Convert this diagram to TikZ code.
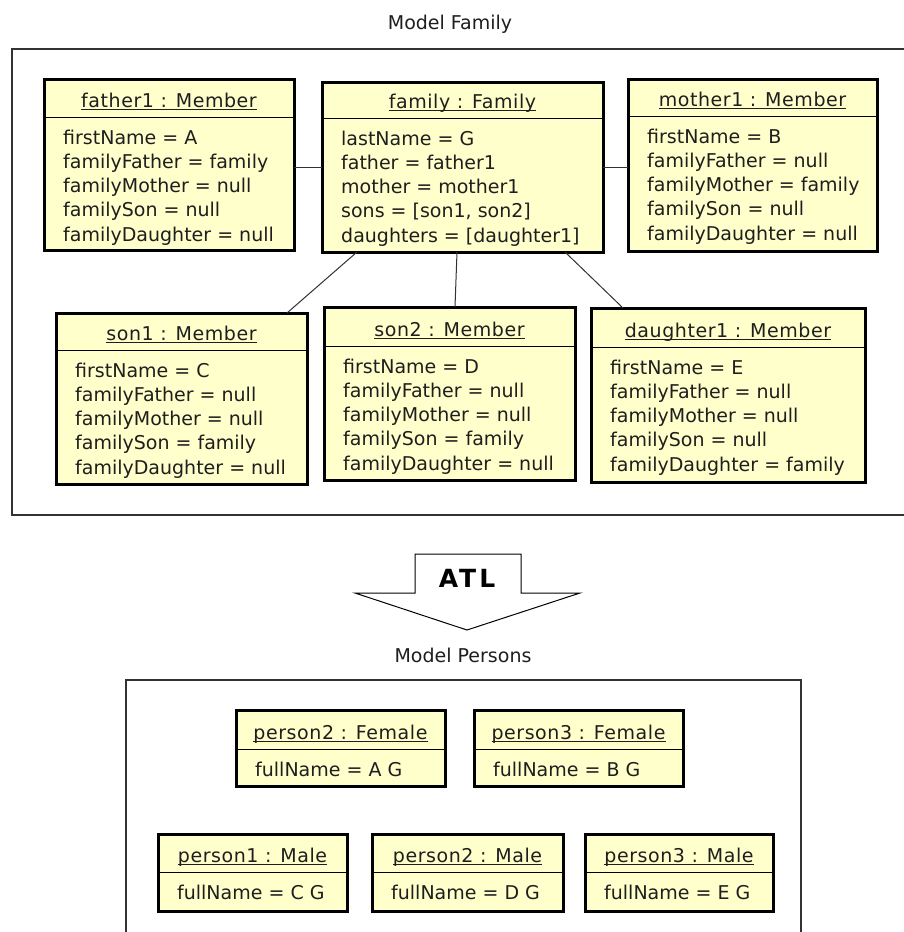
\documentclass[tikz,border=0pt]{standalone}
\usepackage{fontspec}
\setmainfont{DejaVu Sans}
\newfontfamily\hdrfont[LetterSpace=3]{DejaVu Sans}
\newfontfamily\atlfont[LetterSpace=12]{DejaVu Sans}
\usetikzlibrary{calc}

\definecolor{objfill}{RGB}{255,255,204}
\definecolor{txt}{RGB}{30,30,30}
\definecolor{framecol}{RGB}{50,50,50}

% underline sitting a fixed distance under the baseline
\newcommand\ulin[1]{\setbox0=\hbox{#1}\rlap{\rule[-3pt]{\wd0}{1pt}}\box0}

\tikzset{
  objframe/.style={draw=black, line width=3pt, fill=objfill, rectangle,
                   inner sep=0pt, outer sep=0pt},
  sepline/.style={draw=black, line width=1pt},
  hdrtext/.style={anchor=base, inner sep=0pt, text=txt,
                  font=\hdrfont\fontsize{19}{23}\selectfont},
  bodytext/.style={anchor=base west, inner sep=0pt, text=txt,
                   font=\fontsize{19}{23}\selectfont},
  titletext/.style={anchor=base, inner sep=0pt, text=txt,
                    font=\fontsize{19}{23}\selectfont},
  modelframe/.style={draw=framecol, line width=1.4pt, fill=none},
  link/.style={draw=framecol, line width=1pt},
}

% object box: name, left, top, right, bottom, separator y, title, attribute lines
\newcommand\objbox[8]{%
  \node[objframe, minimum width={(#4)-(#2)}, minimum height={(#5)-(#3)}]
    (#1) at ({((#2)+(#4))/2},{((#3)+(#5))/2}) {};
  \draw[sepline] (#2,#6) -- (#4,#6);
  \node[hdrtext] at ({((#2)+(#4))/2},{(#6)-10}) {\ulin{#7}};
  \foreach \bline [count=\idx] in {#8} {
    \node[bodytext] at ({(#2)+19},{(#6)+27+(\idx-1)*24.3}) {\bline};
  }
}

\begin{document}
\begin{tikzpicture}[x=1pt, y=-1pt]
  \useasboundingbox (0,0) rectangle (904,932);
  \clip (0,0) rectangle (904,932);
  \fill[white] (0,0) rectangle (904,932);

  % source model
  \node[titletext] (famtitle) at (450,29) {Model Family};
  \draw[modelframe] (12,49) rectangle (915,515);

  \objbox{father1}{44}{79}{294}{250}{117}{father1 : Member}%
    {firstName = A, familyFather = family, familyMother = null, familySon = null, familyDaughter = null}
  \objbox{family}{322}{82}{603}{252}{118}{family : Family}%
    {lastName = G, father = father1, mother = mother1, {sons = [son1, son2]}, {daughters = [daughter1]}}
  \objbox{mother1}{628}{79}{877}{251}{116}{mother1 : Member}%
    {firstName = B, familyFather = null, familyMother = family, familySon = null, familyDaughter = null}
  \objbox{son1}{56}{313}{307}{484}{350}{son1 : Member}%
    {firstName = C, familyFather = null, familyMother = null, familySon = family, familyDaughter = null}
  \objbox{son2}{324}{307}{575}{480}{346}{son2 : Member}%
    {firstName = D, familyFather = null, familyMother = null, familySon = family, familyDaughter = null}
  \objbox{daughter1}{591}{308}{865}{482}{347}{daughter1 : Member}%
    {firstName = E, familyFather = null, familyMother = null, familySon = null, familyDaughter = family}

  % links between the family and its members
  \draw[link] (family.west) -- (family.west -| father1.east);
  \draw[link] (family.east) -- (family.east -| mother1.west);
  \draw[link] ($(family.south west)+(35,0)$) -- ($(son1.north east)+(-20,0)$);
  \draw[link] ($(family.south west)+(135,0)$) -- ($(son2.north west)+(131,0)$);
  \draw[link] ($(family.south east)+(-38,0)$) -- ($(daughter1.north west)+(32,0)$);

  % transformation arrow
  \draw[black, line width=1pt, fill=white, line join=miter]
    (415,554) -- (521,554) -- (521,593) -- (580,593) -- (467,630)
    -- (355,593) -- (415,593) -- cycle;
  \node[anchor=base, inner sep=0pt, text=black,
        font=\atlfont\bfseries\fontsize{25}{30}\selectfont] (atl) at (467,587) {ATL};

  % target model
  \node[titletext] (pertitle) at (463,662) {Model Persons};
  \draw[modelframe] (126,680) rectangle (801,945);

  \objbox{p2female}{236}{710}{445}{786}{749}{person2 : Female}{fullName = A G}
  \objbox{p3female}{474}{710}{683}{786}{749}{person3 : Female}{fullName = B G}
  \objbox{p1male}{158}{834}{347}{911}{872}{person1 : Male}{fullName = C G}
  \objbox{p2male}{372}{834}{563}{911}{872}{person2 : Male}{fullName = D G}
  \objbox{p3male}{585}{834}{773}{911}{872}{person3 : Male}{fullName = E G}
\end{tikzpicture}
\end{document}
